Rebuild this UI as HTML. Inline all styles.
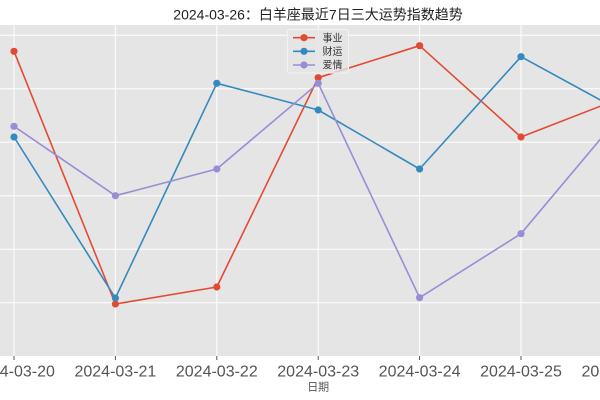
<!DOCTYPE html>
<html>
<head>
<meta charset="utf-8">
<style>
  html, body { margin: 0; padding: 0; background: #ffffff; }
  body { width: 600px; height: 400px; overflow: hidden; }
  svg { display: block; }
  text { font-family: "Liberation Sans", "Noto Sans CJK SC", "WenQuanYi Zen Hei", sans-serif; }
</style>
</head>
<body>
<svg width="600" height="400" viewBox="0 0 600 400" xmlns="http://www.w3.org/2000/svg">
  <rect x="0" y="0" width="600" height="400" fill="#ffffff"/>
  <!-- plot area -->
  <rect x="-10" y="25" width="620" height="331" fill="#E5E5E5"/>
  <!-- horizontal grid -->
  <g stroke="#ffffff" stroke-width="1">
    <line x1="-10" y1="35.3" x2="610" y2="35.3"/>
    <line x1="-10" y1="88.8" x2="610" y2="88.8"/>
    <line x1="-10" y1="142.3" x2="610" y2="142.3"/>
    <line x1="-10" y1="195.8" x2="610" y2="195.8"/>
    <line x1="-10" y1="249.3" x2="610" y2="249.3"/>
    <line x1="-10" y1="302.8" x2="610" y2="302.8"/>
  </g>
  <!-- vertical grid -->
  <g stroke="#ffffff" stroke-width="1">
    <line x1="14" y1="25" x2="14" y2="356"/>
    <line x1="115.4" y1="25" x2="115.4" y2="356"/>
    <line x1="216.8" y1="25" x2="216.8" y2="356"/>
    <line x1="318.2" y1="25" x2="318.2" y2="356"/>
    <line x1="419.6" y1="25" x2="419.6" y2="356"/>
    <line x1="521" y1="25" x2="521" y2="356"/>
  </g>
  <!-- ticks -->
  <g stroke="#555555" stroke-width="1">
    <line x1="14" y1="356" x2="14" y2="360"/>
    <line x1="115.4" y1="356" x2="115.4" y2="360"/>
    <line x1="216.8" y1="356" x2="216.8" y2="360"/>
    <line x1="318.2" y1="356" x2="318.2" y2="360"/>
    <line x1="419.6" y1="356" x2="419.6" y2="360"/>
    <line x1="521" y1="356" x2="521" y2="360"/>
  </g>

  <!-- series: 事业 -->
  <g>
    <polyline fill="none" stroke="#E24A33" stroke-width="1.6" stroke-linejoin="round"
      points="14,51.3 115.4,304 216.8,287 318.2,77.7 419.6,45.7 521,137 622.4,97.6"/>
    <g fill="#E24A33">
      <circle cx="14" cy="51.3" r="3.6"/>
      <circle cx="115.4" cy="304" r="3.6"/>
      <circle cx="216.8" cy="287" r="3.6"/>
      <circle cx="318.2" cy="77.7" r="3.6"/>
      <circle cx="419.6" cy="45.7" r="3.6"/>
      <circle cx="521" cy="137" r="3.6"/>
    </g>
  </g>
  <!-- series: 财运 -->
  <g>
    <polyline fill="none" stroke="#348ABD" stroke-width="1.6" stroke-linejoin="round"
      points="14,137 115.4,298 216.8,83.3 318.2,110 419.6,169 521,56.7 622.4,112"/>
    <g fill="#348ABD">
      <circle cx="14" cy="137" r="3.6"/>
      <circle cx="115.4" cy="298" r="3.6"/>
      <circle cx="216.8" cy="83.3" r="3.6"/>
      <circle cx="318.2" cy="110" r="3.6"/>
      <circle cx="419.6" cy="169" r="3.6"/>
      <circle cx="521" cy="56.7" r="3.6"/>
    </g>
  </g>
  <!-- series: 爱情 -->
  <g>
    <polyline fill="none" stroke="#988ED5" stroke-width="1.6" stroke-linejoin="round"
      points="14,126.3 115.4,195.7 216.8,169 318.2,83.3 419.6,297.7 521,233.7 622.4,113"/>
    <g fill="#988ED5">
      <circle cx="14" cy="126.3" r="3.6"/>
      <circle cx="115.4" cy="195.7" r="3.6"/>
      <circle cx="216.8" cy="169" r="3.6"/>
      <circle cx="318.2" cy="83.3" r="3.6"/>
      <circle cx="419.6" cy="297.7" r="3.6"/>
      <circle cx="521" cy="233.7" r="3.6"/>
    </g>
  </g>

  <!-- legend -->
  <g>
    <rect x="287.5" y="29.5" width="61" height="43.5" rx="2" ry="2" fill="#E5E5E5" fill-opacity="0.8" stroke="#f2f2f2" stroke-width="1"/>
    <line x1="293" y1="37.7" x2="315" y2="37.7" stroke="#E24A33" stroke-width="1.6"/>
    <circle cx="304" cy="37.7" r="3.6" fill="#E24A33"/>
    <line x1="293" y1="51.3" x2="315" y2="51.3" stroke="#348ABD" stroke-width="1.6"/>
    <circle cx="304" cy="51.3" r="3.6" fill="#348ABD"/>
    <line x1="293" y1="65" x2="315" y2="65" stroke="#988ED5" stroke-width="1.6"/>
    <circle cx="304" cy="65" r="3.6" fill="#988ED5"/>
    <g font-size="10" fill="#333333">
      <text x="322.5" y="41.3">事业</text>
      <text x="322.5" y="54.9">财运</text>
      <text x="322.5" y="68.6">爱情</text>
    </g>
  </g>

  <!-- tick labels -->
  <g font-size="16" fill="#555555" text-anchor="middle">
    <text x="14" y="376.5">2024-03-20</text>
    <text x="115.4" y="376.5">2024-03-21</text>
    <text x="216.8" y="376.5">2024-03-22</text>
    <text x="318.2" y="376.5">2024-03-23</text>
    <text x="419.6" y="376.5">2024-03-24</text>
    <text x="521" y="376.5">2024-03-25</text>
    <text x="622.4" y="376.5">2024-03-26</text>
  </g>
  <!-- x label -->
  <text x="318.2" y="390.5" font-size="11" fill="#555555" text-anchor="middle">日期</text>
  <!-- title -->
  <text x="318" y="19.5" font-size="14" fill="#222222" text-anchor="middle">2024-03-26：白羊座最近7日三大运势指数趋势</text>
</svg>
</body>
</html>
